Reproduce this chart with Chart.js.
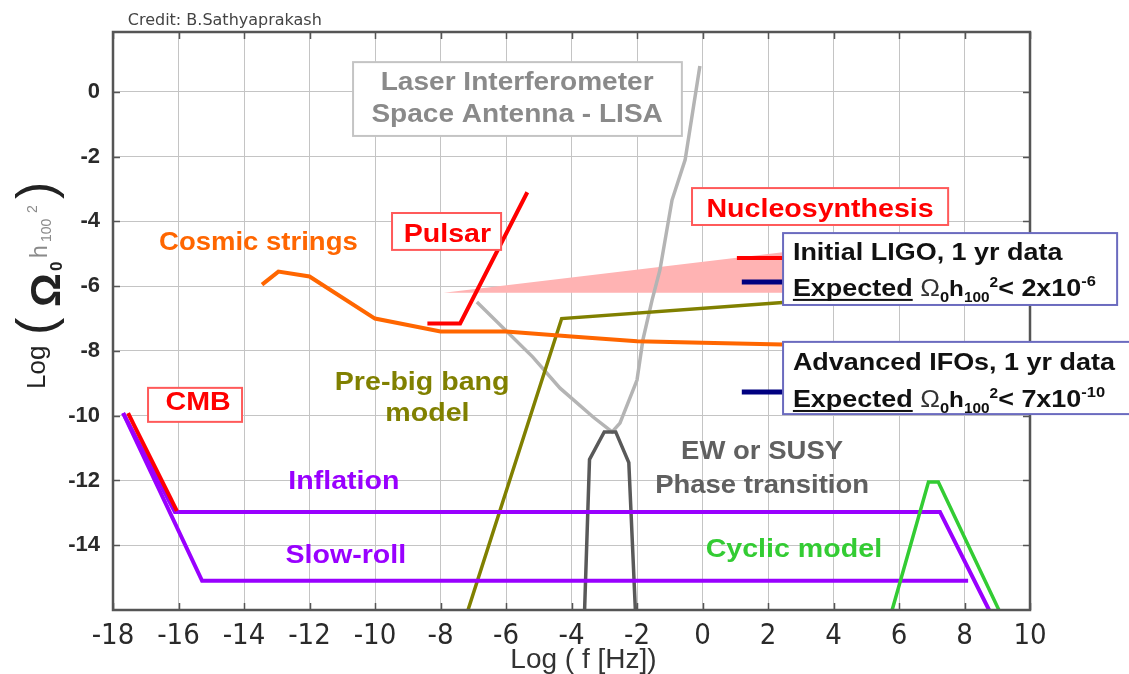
<!DOCTYPE html>
<html lang="en">
<head>
<meta charset="UTF-8">
<title>Stochastic GW background - sensitivity vs models</title>
<script src="https://cdn.jsdelivr.net/npm/chart.js@4.4.0/dist/chart.umd.min.js"></script>
<style>
  html, body { margin: 0; padding: 0; background: #fff; }
  #wrap { width: 1129px; height: 674px; }
</style>
</head>
<body>
<div id="wrap"><canvas id="chart" width="1129" height="674"></canvas></div>
<script>
// tick labels
const xTicks = [-18, -16, -14, -12, -10, -8, -6, -4, -2, 0, 2, 4, 6, 8, 10];
const yTicks = [0, -2, -4, -6, -8, -10, -12, -14];

// series: x = log f [Hz], y = log(Omega0 h100^2)
const cosmicX   = [-13.45, -12.95, -12.0, -10.0, -8.0, -6.0, -4.0, -2.0, 0.0, 2.45];
const cosmicY   = [-5.95, -5.55, -5.7, -7.0, -7.4, -7.4, -7.55, -7.7, -7.75, -7.8];
const pulsarX   = [-8.4, -7.4, -5.35];
const pulsarY   = [-7.15, -7.15, -3.1];
const cmbX      = [-17.54, -16.05];
const cmbY      = [-9.92, -12.94];
const inflX     = [-17.69, -16.11, 7.25, 8.75];
const inflY     = [-9.92, -12.97, -12.97, -16.0];
const slowX     = [-17.69, -15.28, 8.11];
const slowY     = [-9.92, -15.1, -15.1];
const cyclicX   = [5.79, 6.9, 7.2, 9.05];
const cyclicY   = [-16.0, -12.05, -12.05, -16.0];
const preBigX   = [-7.16, -4.3, 2.45];
const preBigY   = [-16.0, -7.0, -6.5];
const lisaX     = [-6.89, -5.18, -4.35, -3.34, -2.76, -2.52, -2.0, -1.82, -1.54, -1.3, -0.93, -0.53, -0.08];
const lisaY     = [-6.49, -8.19, -9.15, -10.04, -10.5, -10.23, -8.9, -7.66, -6.43, -5.5, -3.34, -2.1, 0.8];
const ewX       = [-3.6, -3.45, -3.0, -2.65, -2.25, -2.05];
const ewY       = [-16.0, -11.35, -10.5, -10.5, -11.45, -16.0];
const wedgeX    = [-7.9, 2.45, 2.45, -7.9];
const wedgeY    = [-6.2, -4.95, -6.2, -6.2];
const ligoRedX  = [1.05, 2.45];
const ligoRedY  = [-5.13, -5.13];
const ligoBlueX = [1.2, 2.45];
const ligoBlueY = [-5.87, -5.87];
const advBlueX  = [1.2, 2.45];
const advBlueY  = [-9.27, -9.27];

function series(xs, ys) {
    return xs.map((x, i) => ({ x: x, y: ys[i] }));
}

function line(xs, ys, color, width) {
    return {
        data: series(xs, ys),
        borderColor: color,
        borderWidth: width,
        showLine: true,
        pointRadius: 0,
        fill: false
    };
}

// first entry is drawn on top
const datasets = [
    line(pulsarX, pulsarY, '#ff0000', 4),
    line(cmbX, cmbY, '#ff0000', 4),
    line(ligoRedX, ligoRedY, '#ff0000', 4),
    line(ligoBlueX, ligoBlueY, '#000080', 5),
    line(advBlueX, advBlueY, '#000080', 5),
    line(cyclicX, cyclicY, '#33cc33', 3.5),
    line(slowX, slowY, '#9900ff', 4),
    line(inflX, inflY, '#9900ff', 4),
    line(cosmicX, cosmicY, '#ff6600', 4),
    line(preBigX, preBigY, '#808000', 3.5),
    line(ewX, ewY, '#595959', 3.5),
    line(lisaX, lisaY, '#b4b4b4', 3.5),
    {
        data: series(wedgeX, wedgeY),
        showLine: true,
        pointRadius: 0,
        borderWidth: 0,
        borderColor: 'rgba(0,0,0,0)',
        backgroundColor: '#ffb3b3',
        fill: 'shape'
    }
];

// text placed in data units
const SANS = '"Liberation Sans", Arial, sans-serif';
const notes = [
    { t: 'Laser Interferometer', x: -5.66, y: 0.06, c: '#8a8a8a', s: 25.5 },
    { t: 'Space Antenna - LISA', x: -5.66, y: -0.93, c: '#8a8a8a', s: 25.5 },
    { t: 'Pulsar', x: -7.79, y: -4.64, c: '#ff0000', s: 26 },
    { t: 'Nucleosynthesis', x: 3.59, y: -3.86, c: '#ff0000', s: 26 },
    { t: 'Cosmic strings', x: -13.56, y: -4.88, c: '#ff6600', s: 25 },
    { t: 'CMB', x: -15.4, y: -9.82, c: '#ff0000', s: 26 },
    { t: 'Pre-big bang', x: -8.56, y: -9.21, c: '#808000', s: 26 },
    { t: 'model', x: -8.4, y: -10.16, c: '#808000', s: 26 },
    { t: 'EW or SUSY', x: 1.82, y: -11.34, c: '#606060', s: 25 },
    { t: 'Phase transition', x: 1.82, y: -12.39, c: '#606060', s: 25 },
    { t: 'Inflation', x: -10.95, y: -12.26, c: '#9900ff', s: 26 },
    { t: 'Slow-roll', x: -10.89, y: -14.55, c: '#9900ff', s: 26 },
    { t: 'Cyclic model', x: 2.79, y: -14.36, c: '#33cc33', s: 26 }
];
const boxes = [
    { x1: -10.67, x2: -0.63, y1: 0.92, y2: -1.36, c: '#c4c4c4' },
    { x1: -9.48, x2: -6.15, y1: -3.74, y2: -4.88, c: '#ff5a5a' },
    { x1: -0.32, x2: 7.5, y1: -2.97, y2: -4.11, c: '#ff5a5a' },
    { x1: -16.93, x2: -14.06, y1: -9.14, y2: -10.19, c: '#ff5a5a' },
    { x1: 2.46, x2: 12.66, y1: -4.36, y2: -6.58, c: '#6b6bbf' },
    { x1: 2.46, x2: 13.6, y1: -7.72, y2: -9.95, c: '#6b6bbf' }
];
const ligoText = { x: 2.76, y1: -5.19, y2: -6.30, limit: '2x10', exp: '-6', head: 'Initial LIGO, 1 yr data' };
const advText  = { x: 2.76, y1: -8.59, y2: -9.73, limit: '7x10', exp: '-10', head: 'Advanced IFOs, 1 yr data' };

function stretchText(ctx, str, x, y, font, color, align, sx) {
    ctx.save();
    ctx.font = font;
    ctx.fillStyle = color;
    ctx.textAlign = 'left';
    ctx.textBaseline = 'alphabetic';
    const w = ctx.measureText(str).width * sx;
    ctx.translate(align === 'center' ? x - w / 2 : x, y);
    ctx.scale(sx, 1);
    ctx.fillText(str, 0, 0);
    ctx.restore();
}

function richText(ctx, segs, x, y, sx) {
    ctx.save();
    ctx.translate(x, y);
    ctx.scale(sx, 1);
    ctx.textAlign = 'left';
    ctx.textBaseline = 'alphabetic';
    let cx = 0;
    segs.forEach(s => {
        ctx.font = s.f;
        ctx.fillStyle = s.c || '#111';
        ctx.fillText(s.t, cx, s.dy || 0);
        const w = ctx.measureText(s.t).width;
        if (s.u) ctx.fillRect(cx, 3, w, 2);
        cx += w;
    });
    ctx.restore();
}

function sensBox(ctx, sc, d) {
    const X = sc.x.getPixelForValue(d.x);
    stretchText(ctx, d.head, X, sc.y.getPixelForValue(d.y1), 'bold 24.5px ' + SANS, '#111', 'left', 1.1);
    richText(ctx, [
        { t: 'Expected', f: 'bold 24.5px ' + SANS, u: true },
        { t: ' ', f: 'bold 24.5px ' + SANS },
        { t: '\u03A9', f: '24px ' + SANS, c: '#333' },
        { t: '0', f: 'bold 15px ' + SANS, dy: 6 },
        { t: 'h', f: 'bold 22px ' + SANS },
        { t: '100', f: 'bold 14px ' + SANS, dy: 6 },
        { t: '2', f: 'bold 14px ' + SANS, dy: -9 },
        { t: '< ' + d.limit, f: 'bold 24.5px ' + SANS },
        { t: d.exp, f: 'bold 15px ' + SANS, dy: -10 }
    ], X, sc.y.getPixelForValue(d.y2), 1.1);
}

const decor = {
    id: 'decor',
    afterDatasetsDraw(chart) {
        const ctx = chart.ctx;
        const a = chart.chartArea;
        const sc = chart.scales;
        ctx.save();
        // inner tick marks
        ctx.strokeStyle = '#555';
        ctx.lineWidth = 1.5;
        ctx.beginPath();
        xTicks.forEach(v => {
            const p = Math.round(sc.x.getPixelForValue(v)) + 0.5;
            ctx.moveTo(p, a.bottom); ctx.lineTo(p, a.bottom - 7);
            ctx.moveTo(p, a.top); ctx.lineTo(p, a.top + 7);
        });
        yTicks.forEach(v => {
            const p = Math.round(sc.y.getPixelForValue(v)) + 0.5;
            ctx.moveTo(a.left, p); ctx.lineTo(a.left + 7, p);
            ctx.moveTo(a.right, p); ctx.lineTo(a.right - 7, p);
        });
        ctx.stroke();
        // plot frame
        ctx.lineWidth = 2.5;
        ctx.strokeRect(a.left, a.top, a.right - a.left, a.bottom - a.top);

        // label boxes
        boxes.forEach(b => {
            const x1 = sc.x.getPixelForValue(b.x1), x2 = sc.x.getPixelForValue(b.x2);
            const y1 = sc.y.getPixelForValue(b.y1), y2 = sc.y.getPixelForValue(b.y2);
            ctx.fillStyle = '#fff';
            ctx.fillRect(x1, y1, x2 - x1, y2 - y1);
            ctx.strokeStyle = b.c;
            ctx.lineWidth = 2;
            ctx.strokeRect(x1, y1, x2 - x1, y2 - y1);
        });
        notes.forEach(n => {
            stretchText(ctx, n.t, sc.x.getPixelForValue(n.x), sc.y.getPixelForValue(n.y),
                'bold ' + n.s + 'px ' + SANS, n.c, 'center', 1.1);
        });
        sensBox(ctx, sc, ligoText);
        sensBox(ctx, sc, advText);

        // credit line
        ctx.font = '16px "DejaVu Sans", sans-serif';
        ctx.fillStyle = '#444';
        ctx.textAlign = 'left';
        ctx.textBaseline = 'alphabetic';
        ctx.fillText('Credit: B.Sathyaprakash', sc.x.getPixelForValue(-17.55), sc.y.getPixelForValue(2.07));

        // axis titles
        ctx.font = '28px ' + SANS;
        ctx.fillStyle = '#333';
        ctx.textAlign = 'center';
        ctx.fillText('Log ( f [Hz])', (a.left + a.right) / 2 + 12, 668);

        const yt = [
            { t: 'Log', f: '26px ' + SANS, c: '#222', x: 45, y: 389 },
            { t: '(', f: '52px ' + SANS, c: '#222', x: 53, y: 335 },
            { t: '\u03A9', f: 'bold 42px ' + SANS, c: '#222', x: 60, y: 307 },
            { t: '0', f: 'bold 17px ' + SANS, c: '#222', x: 62, y: 271 },
            { t: 'h', f: '23px ' + SANS, c: '#8a8a8a', x: 47, y: 258 },
            { t: '100', f: '14px ' + SANS, c: '#8a8a8a', x: 51, y: 242 },
            { t: '2', f: '14px ' + SANS, c: '#8a8a8a', x: 37, y: 213 },
            { t: ')', f: '52px ' + SANS, c: '#222', x: 53, y: 199 }
        ];
        ctx.textAlign = 'left';
        yt.forEach(g => {
            ctx.save();
            ctx.translate(g.x, g.y);
            ctx.rotate(-Math.PI / 2);
            ctx.font = g.f;
            ctx.fillStyle = g.c;
            ctx.fillText(g.t, 0, 0);
            ctx.restore();
        });
        ctx.restore();
    }
};

new Chart(document.getElementById('chart'), {
    type: 'scatter',
    data: { datasets: datasets },
    options: {
        responsive: false,
        animation: false,
        layout: { padding: { top: 32, right: 99, bottom: 0, left: 0 } },
        plugins: { legend: { display: false }, tooltip: { enabled: false } },
        scales: {
            x: {
                type: 'linear',
                min: -18,
                max: 10,
                afterBuildTicks: s => { s.ticks = xTicks.map(v => ({ value: v })); },
                afterFit: s => { s.height = 64; },
                grid: { color: '#c4c4c4', lineWidth: 1, drawTicks: false },
                border: { display: false },
                ticks: {
                    autoSkip: false,
                    maxRotation: 0,
                    padding: 9,
                    color: '#2a2a2a',
                    font: { family: '"Liberation Sans Narrow", "DejaVu Sans Condensed", sans-serif', size: 29 },
                    callback: v => String(v)
                }
            },
            y: {
                type: 'linear',
                min: -16,
                max: 1.85,
                afterBuildTicks: s => { s.ticks = yTicks.map(v => ({ value: v })); },
                afterFit: s => { s.width = 113; },
                grid: { color: '#c4c4c4', lineWidth: 1, drawTicks: false },
                border: { display: false },
                ticks: {
                    padding: 13,
                    color: '#2a2a2a',
                    font: { family: SANS, size: 22, weight: 'bold' },
                    callback: v => String(v)
                }
            }
        }
    },
    plugins: [decor]
});
</script>
</body>
</html>
